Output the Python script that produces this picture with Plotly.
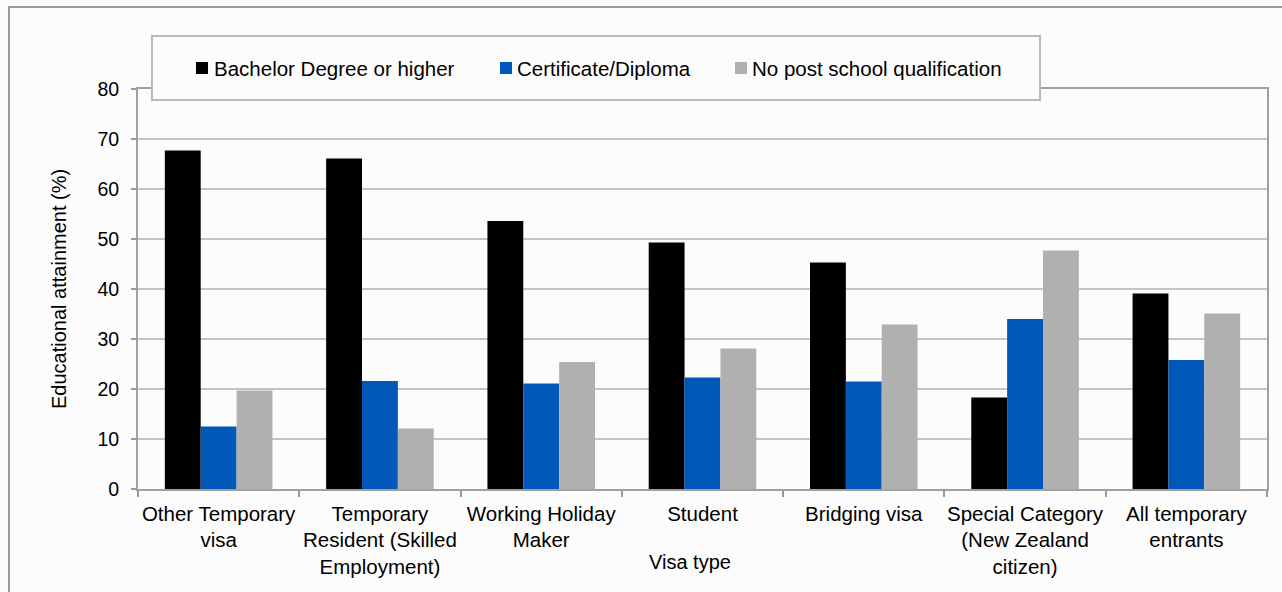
import plotly.graph_objects as go

# Visa categories and their wrapped axis labels
categories = [
    "Other Temporary visa",
    "Temporary Resident (Skilled Employment)",
    "Working Holiday Maker",
    "Student",
    "Bridging visa",
    "Special Category (New Zealand citizen)",
    "All temporary entrants",
]
tick_labels = [
    "Other Temporary<br>visa",
    "Temporary<br>Resident (Skilled<br>Employment)",
    "Working Holiday<br>Maker",
    "Student",
    "Bridging visa",
    "Special Category<br>(New Zealand<br>citizen)",
    "All temporary<br>entrants",
]

# Educational attainment (%) by visa type
bachelor = [67.7, 66.1, 53.6, 49.3, 45.3, 18.3, 39.1]
certificate = [12.5, 21.6, 21.1, 22.3, 21.5, 34.0, 25.8]
no_post_school = [19.7, 12.1, 25.4, 28.1, 32.9, 47.7, 35.1]

series_names = ["Bachelor Degree or higher", "Certificate/Diploma", "No post school qualification"]
series_values = [bachelor, certificate, no_post_school]
series_colors = ["#000000", "#0058B8", "#B0B0B0"]

FONT = "Liberation Sans, Arial, sans-serif"
W, H = 1282, 592
ML, MR, MT, MB = 138, 15, 89, 103
PW, PH = W - ML - MR, H - MT - MB


def px_x(px):
    return (px - ML) / PW


def px_y(py):
    return (H - MB - py) / PH


fig = go.Figure()
for name, vals, col in zip(series_names, series_values, series_colors):
    fig.add_trace(go.Bar(
        x=categories, y=vals, name=name,
        marker=dict(color=col, line=dict(width=0)),
        showlegend=False,
    ))

shapes = []
annotations = []

# outer chart frame
shapes.append(dict(type="rect", xref="paper", yref="paper",
                   x0=px_x(9), x1=px_x(1295), y0=px_y(605), y1=px_y(7),
                   line=dict(color="#9a9a9a", width=2), fillcolor="rgba(0,0,0,0)", layer="below"))

# legend box
shapes.append(dict(type="rect", xref="paper", yref="paper",
                   x0=px_x(152), x1=px_x(1040), y0=px_y(100), y1=px_y(36),
                   line=dict(color="#b8b8b8", width=2), fillcolor="#fcfcfc", layer="above"))

legend_sq_x = [196, 500, 735]
legend_txt_x = [212, 515, 750]
for name, col, sx, tx in zip(series_names, series_colors, legend_sq_x, legend_txt_x):
    shapes.append(dict(type="rect", xref="paper", yref="paper",
                       x0=px_x(sx), x1=px_x(sx + 12), y0=px_y(74), y1=px_y(62),
                       line=dict(width=0), fillcolor=col, layer="above"))
    annotations.append(dict(text=name, xref="paper", yref="paper",
                            x=px_x(tx), y=px_y(68), xanchor="left", yanchor="middle",
                            showarrow=False, font=dict(family=FONT, size=20.5, color="#000")))

# axis titles
annotations.append(dict(text="Educational attainment (%)", xref="paper", yref="paper",
                        x=px_x(59), y=0.5, xanchor="center", yanchor="middle",
                        textangle=-90, showarrow=False,
                        font=dict(family=FONT, size=20, color="#000")))
annotations.append(dict(text="Visa type", xref="paper", yref="paper",
                        x=px_x(690), y=px_y(562), xanchor="center", yanchor="middle",
                        showarrow=False, font=dict(family=FONT, size=20, color="#000")))

fig.update_layout(
    width=W, height=H,
    margin=dict(l=ML, r=MR, t=MT, b=MB),
    paper_bgcolor="#fcfcfc",
    plot_bgcolor="#fcfcfc",
    barmode="group",
    bargap=0.333,
    bargroupgap=0,
    shapes=shapes,
    annotations=annotations,
    font=dict(family=FONT, size=20, color="#000"),
)

fig.update_xaxes(
    type="category",
    tickmode="array", tickvals=categories, ticktext=tick_labels,
    tickson="boundaries", ticks="outside", ticklen=6, tickwidth=1.5, tickcolor="#999999",
    showline=True, linecolor="#a0a0a0", linewidth=2, mirror=True,
    showgrid=False, zeroline=False,
    tickfont=dict(family=FONT, size=20.5, color="#000"),
    tickangle=0,
    ticklabelstandoff=5,
)
fig.update_yaxes(
    range=[0, 80], dtick=10, tick0=0,
    ticks="outside", ticklen=5, tickwidth=1.5, tickcolor="#999999",
    showline=True, linecolor="#a0a0a0", linewidth=2, mirror=True,
    showgrid=True, gridcolor="#c4c4c4", gridwidth=1.5, zeroline=False,
    tickfont=dict(family=FONT, size=19.5, color="#000"),
    ticklabelstandoff=8,
)

fig.write_html("out.html")
